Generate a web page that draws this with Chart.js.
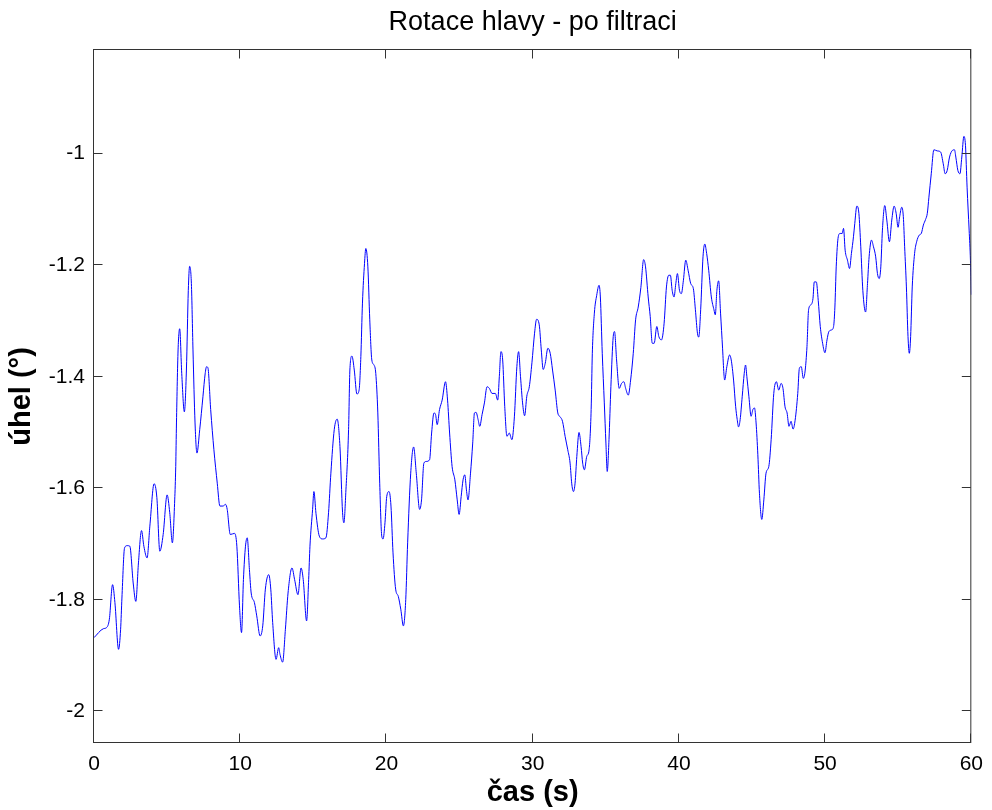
<!DOCTYPE html>
<html>
<head>
<meta charset="utf-8">
<title>Rotace hlavy - po filtraci</title>
<script src="https://cdn.jsdelivr.net/npm/chart.js@4.4.1/dist/chart.umd.min.js"></script>
<style>
  html, body { margin: 0; padding: 0; background: #fff; }
  #chartBox { width: 992px; height: 810px; }
</style>
</head>
<body>
<div id="chartBox"><canvas id="rotaceChart" width="992" height="810"></canvas></div>
<script>
'use strict';

// filtered head rotation: time (s) and angle (deg)
var casS = [
  0.00, 0.64, 0.86, 1.05, 1.27, 1.43, 1.68, 1.82, 1.91, 2.09, 2.27, 2.45, 2.68, 2.86, 3.04, 3.25, 3.41, 3.63, 3.82,
  4.11, 4.30, 4.50, 4.73, 5.00, 5.18, 5.36, 5.52, 5.59, 5.64, 5.75, 5.86, 6.00, 6.18, 6.32, 6.45, 6.54, 6.66, 6.77,
  6.91, 7.04, 7.23, 7.45, 7.60, 7.70, 7.79, 7.98, 8.20, 8.43, 8.61, 8.82, 9.00, 9.11, 9.32, 9.61, 9.77, 9.95, 10.09,
  10.22, 10.36, 10.48, 10.63, 10.75, 10.97, 11.13, 11.36, 11.54, 11.72, 11.95, 12.09, 12.22, 12.45, 12.63, 12.72,
  12.90, 13.09, 13.27, 13.54, 13.72, 13.95, 14.16, 14.31, 14.54, 14.68, 14.77, 14.95, 15.04, 15.18, 15.41, 15.63,
  15.86, 16.04, 16.20, 16.43, 16.63, 16.82, 17.00, 17.09, 17.23, 17.41, 17.50, 17.64, 17.80, 17.98, 18.13, 18.25,
  18.36, 18.50, 18.59, 18.73, 18.86, 19.00, 19.15, 19.27, 19.41, 19.54, 19.68, 19.77, 19.90, 20.02, 20.18, 20.31,
  20.45, 20.63, 20.81, 20.98, 21.16, 21.32, 21.45, 21.66, 21.86, 22.04, 22.27, 22.40, 22.56, 22.72, 22.95, 23.09,
  23.25, 23.36, 23.47, 23.63, 23.81, 24.04, 24.18, 24.32, 24.49, 24.68, 24.84, 24.97, 25.11, 25.24, 25.36, 25.47,
  25.58, 25.75, 25.90, 26.02, 26.13, 26.27, 26.38, 26.54, 26.70, 26.88, 27.04, 27.22, 27.45, 27.61, 27.72, 27.83,
  27.95, 28.09, 28.24, 28.40, 28.58, 28.75, 28.92, 29.04, 29.17, 29.31, 29.45, 29.60, 29.77, 29.95, 30.13, 30.27,
  30.45, 30.59, 30.72, 30.86, 31.04, 31.20, 31.36, 31.54, 31.72, 31.88, 32.04, 32.22, 32.40, 32.56, 32.67, 32.79,
  32.90, 33.02, 33.17, 33.31, 33.42, 33.54, 33.70, 33.86, 34.00, 34.08, 34.22, 34.38, 34.54, 34.63, 34.76, 34.90,
  35.01, 35.10, 35.22, 35.35, 35.51, 35.60, 35.74, 35.92, 36.08, 36.24, 36.36, 36.54, 36.70, 36.88, 37.04, 37.22,
  37.40, 37.59, 37.72, 37.90, 38.04, 38.18, 38.31, 38.49, 38.63, 38.81, 38.99, 39.15, 39.31, 39.42, 39.54, 39.67,
  39.79, 39.90, 40.04, 40.17, 40.31, 40.47, 40.63, 40.81, 40.99, 41.13, 41.27, 41.36, 41.49, 41.65, 41.77, 41.90,
  42.04, 42.22, 42.40, 42.49, 42.60, 42.72, 42.85, 42.99, 43.08, 43.13, 43.28, 43.47, 43.58, 43.74, 43.88, 43.99,
  44.08, 44.19, 44.33, 44.47, 44.56, 44.65, 44.79, 44.94, 45.06, 45.17, 45.28, 45.40, 45.51, 45.67, 45.81, 45.96,
  46.15, 46.31, 46.49, 46.67, 46.83, 46.99, 47.12, 47.26, 47.40, 47.53, 47.67, 47.81, 47.95, 48.13, 48.24, 48.37,
  48.51, 48.64, 48.76, 48.87, 49.03, 49.17, 49.26, 49.40, 49.53, 49.67, 49.83, 49.99, 50.13, 50.26, 50.45, 50.58,
  50.67, 50.76, 50.90, 51.03, 51.17, 51.26, 51.37, 51.53, 51.67, 51.80, 51.94, 52.03, 52.17, 52.31, 52.44, 52.58,
  52.77, 52.90, 53.01, 53.17, 53.31, 53.46, 53.58, 53.70, 53.81, 53.92, 54.08, 54.22, 54.40, 54.56, 54.72, 54.86,
  54.99, 55.10, 55.24, 55.35, 55.44, 55.56, 55.67, 55.76, 55.85, 55.96, 56.12, 56.26, 56.44, 56.58, 56.72, 56.87,
  56.99, 57.10, 57.26, 57.44, 57.67, 57.90, 58.08, 58.21, 58.35, 58.51, 58.71, 58.85, 58.94, 59.08, 59.22, 59.35,
  59.49, 59.60, 59.71, 59.85, 59.94, 60.00
];

var uhel = [
  -1.868, -1.852, -1.850, -1.835, -1.773, -1.805, -1.889, -1.853, -1.797, -1.707, -1.703, -1.704, -1.770, -1.803, -1.734, -1.676, -1.704, -1.725, -1.668,
  -1.592, -1.617, -1.713, -1.683, -1.612, -1.644, -1.698, -1.621, -1.561, -1.483, -1.352, -1.314, -1.394, -1.463, -1.388, -1.245, -1.202, -1.233, -1.352,
  -1.483, -1.537, -1.495, -1.436, -1.395, -1.382, -1.384, -1.459, -1.531, -1.591, -1.632, -1.632, -1.629, -1.638, -1.683, -1.681, -1.704, -1.811, -1.859,
  -1.764, -1.704, -1.689, -1.746, -1.788, -1.805, -1.829, -1.865, -1.847, -1.781, -1.755, -1.781, -1.841, -1.907, -1.886, -1.898,
  -1.912, -1.853, -1.788, -1.743, -1.764, -1.791, -1.743, -1.764, -1.838, -1.764, -1.704, -1.638, -1.606, -1.645, -1.686, -1.691,
  -1.689, -1.644, -1.573, -1.495, -1.476, -1.525, -1.644, -1.662, -1.603, -1.495, -1.388, -1.363, -1.388, -1.431, -1.424, -1.364,
  -1.268, -1.197, -1.170, -1.203, -1.298, -1.370, -1.379, -1.394, -1.465, -1.591, -1.686, -1.691, -1.662, -1.615, -1.606, -1.632,
  -1.716, -1.781, -1.794, -1.817, -1.847, -1.800, -1.698, -1.573, -1.526, -1.573, -1.638, -1.621, -1.555, -1.552, -1.549, -1.501,
  -1.465, -1.468, -1.486, -1.459, -1.442, -1.409, -1.442, -1.501, -1.561, -1.585, -1.621, -1.647, -1.615, -1.585, -1.576, -1.603,
  -1.621, -1.573, -1.519, -1.465, -1.464, -1.477, -1.489, -1.468, -1.447, -1.418, -1.421, -1.430, -1.430, -1.442, -1.400, -1.355,
  -1.370, -1.453, -1.507, -1.501, -1.513, -1.472, -1.382, -1.355, -1.400, -1.447, -1.470, -1.435, -1.418, -1.375, -1.322, -1.297,
  -1.307, -1.352, -1.387, -1.376, -1.349, -1.358, -1.388, -1.424, -1.465, -1.472, -1.480, -1.507, -1.531, -1.555, -1.591, -1.606,
  -1.591, -1.543, -1.500, -1.525, -1.555, -1.567, -1.543, -1.531, -1.459, -1.358, -1.286, -1.254, -1.236, -1.257, -1.358, -1.447,
  -1.519, -1.570, -1.513, -1.418, -1.328, -1.319, -1.370, -1.421, -1.412, -1.409, -1.421, -1.433, -1.406, -1.358, -1.298, -1.275,
  -1.240, -1.190, -1.203, -1.257, -1.292, -1.340, -1.340, -1.310, -1.328, -1.334, -1.304, -1.239, -1.218, -1.218, -1.245, -1.257,
  -1.233, -1.215, -1.245, -1.251, -1.227, -1.191, -1.209, -1.233, -1.242, -1.280, -1.322, -1.329, -1.280, -1.185, -1.162, -1.179,
  -1.209, -1.257, -1.280, -1.289, -1.245, -1.228, -1.286, -1.350, -1.395, -1.406, -1.382, -1.361, -1.370, -1.406, -1.453, -1.477,
  -1.490, -1.477, -1.436, -1.394, -1.379, -1.400, -1.436, -1.471, -1.459, -1.456, -1.483, -1.540, -1.609, -1.656, -1.621, -1.573,
  -1.561, -1.513, -1.430, -1.409, -1.424, -1.412, -1.421, -1.454, -1.465, -1.489, -1.480, -1.494, -1.478, -1.430, -1.385, -1.382,
  -1.403, -1.388, -1.346, -1.280, -1.271, -1.260, -1.230, -1.230, -1.263, -1.310, -1.340, -1.357, -1.334, -1.319, -1.316, -1.310,
  -1.275, -1.203, -1.149, -1.143, -1.143, -1.134, -1.173, -1.191, -1.206, -1.179, -1.149, -1.125, -1.094, -1.107, -1.167, -1.245,
  -1.284, -1.233, -1.185, -1.155, -1.167, -1.185, -1.215, -1.224, -1.203, -1.137, -1.093, -1.119, -1.158, -1.119, -1.094, -1.107,
  -1.132, -1.113, -1.096, -1.113, -1.167, -1.239, -1.328, -1.358, -1.328, -1.239, -1.179, -1.158, -1.146, -1.143, -1.128, -1.118,
  -1.107, -1.078, -1.036, -0.993, -0.995, -0.997, -1.018, -1.036, -1.030, -1.006, -0.994, -0.993, -1.006, -1.030, -1.036, -1.006,
  -0.969, -0.985, -1.060, -1.137, -1.191, -1.253
];

var xTicks = [0, 10, 20, 30, 40, 50, 60];
var yTicks = [-2, -1.8, -1.6, -1.4, -1.2, -1];

var TICK_LEN = 9;
var FONT = 'Liberation Sans, Arial, sans-serif';

// axes box with inward tick marks on all four sides
var matlabBox = {
  id: 'matlabBox',
  afterDatasetsDraw: function(chart) {
    var ctx = chart.ctx;
    var a = chart.chartArea;
    var xs = chart.scales.x, ys = chart.scales.y;
    var l = a.left - 0.5, r = a.right - 0.5, t = a.top - 0.5, b = a.bottom - 0.5;
    ctx.save();
    ctx.strokeStyle = '#333';
    ctx.lineWidth = 1;
    ctx.strokeRect(l, t, r - l, b - t);
    ctx.beginPath();
    xs.ticks.forEach(function(tk) {
      var px = Math.round(xs.getPixelForValue(tk.value)) - 0.5;
      ctx.moveTo(px, b); ctx.lineTo(px, b - TICK_LEN);
      ctx.moveTo(px, t); ctx.lineTo(px, t + TICK_LEN);
    });
    ys.ticks.forEach(function(tk) {
      var py = Math.round(ys.getPixelForValue(tk.value)) - 0.5;
      ctx.moveTo(l, py); ctx.lineTo(l + TICK_LEN, py);
      ctx.moveTo(r, py); ctx.lineTo(r - TICK_LEN, py);
    });
    ctx.stroke();
    ctx.restore();
  }
};

var points = casS.map(function(t, i) { return {x: t, y: uhel[i]}; });

new Chart(document.getElementById('rotaceChart').getContext('2d'), {
  type: 'line',
  data: {
    datasets: [{
      data: points,
      borderColor: '#0000ff',
      borderWidth: 1,
      pointRadius: 0,
      fill: false,
      cubicInterpolationMode: 'monotone'
    }]
  },
  options: {
    responsive: false,
    animation: false,
    devicePixelRatio: 1,
    layout: { padding: { left: 0, right: 18, top: 0, bottom: 0 } },
    plugins: {
      legend: { display: false },
      tooltip: { enabled: false },
      title: {
        display: true,
        fullSize: false,
        text: 'Rotace hlavy - po filtraci',
        color: '#000',
        font: { family: FONT, size: 27, weight: 'normal' },
        padding: { top: 6, bottom: 11.6 }
      }
    },
    scales: {
      x: {
        type: 'linear',
        min: 0,
        max: 60,
        grid: { display: false, drawTicks: false },
        border: { display: false },
        afterBuildTicks: function(s) { s.ticks = xTicks.map(function(v) { return {value: v}; }); },
        afterFit: function(s) { s.height = 67; },
        ticks: {
          color: '#000',
          padding: 9,
          maxRotation: 0,
          autoSkip: false,
          font: { family: FONT, size: 21 },
          callback: function(v) { return String(v); }
        },
        title: {
          display: true,
          text: 'čas (s)',
          color: '#000',
          font: { family: FONT, size: 29, weight: 'bold' },
          padding: { top: 0, bottom: 0 }
        }
      },
      y: {
        type: 'linear',
        min: -2.057,
        max: -0.814,
        grid: { display: false, drawTicks: false },
        border: { display: false },
        afterBuildTicks: function(s) { s.ticks = yTicks.map(function(v) { return {value: v}; }); },
        afterFit: function(s) { s.width = 94; },
        ticks: {
          color: '#000',
          padding: 9,
          autoSkip: false,
          font: { family: FONT, size: 21 },
          callback: function(v) { return String(Math.round(v * 10) / 10); }
        },
        title: {
          display: true,
          text: 'úhel (°)',
          color: '#000',
          font: { family: FONT, size: 29, weight: 'bold' },
          padding: { top: 4.6, bottom: 0 }
        }
      }
    }
  },
  plugins: [matlabBox]
});
</script>
</body>
</html>
